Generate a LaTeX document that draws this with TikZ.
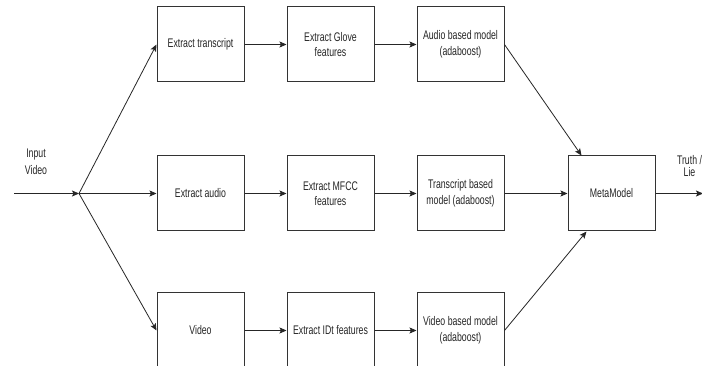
\documentclass[tikz,border=0pt]{standalone}
\usepackage{fontspec}
\setmainfont{Liberation Sans}[FakeStretch=0.70]
\usetikzlibrary{arrows.meta}
\tikzset{
  box/.style={draw=black!80, line width=1pt, minimum width=87pt, minimum height=75pt,
    align=center, inner sep=2pt, font=\fontsize{12.5}{15.5}\selectfont, text=black!85},
  arr/.style={-{Stealth[length=7pt,width=6pt,inset=1.5pt]}, line width=0.8pt, draw=black!85},
  lbl/.style={align=center, inner sep=0pt, text=black!85}
}
\begin{document}
\begin{tikzpicture}[x=1pt,y=-1pt]
\useasboundingbox (0,0) rectangle (702,366);
\fill[white] (0,0) rectangle (702,366);
% row 1
\node[box] (transcript) at (200.5,44.5) {Extract transcript};
\node[box] (glove) at (330.5,44.5) {Extract Glove\\features};
\node[box] (audiomodel) at (460.5,44.5) {Audio based model\\(adaboost)};
% row 2
\node[box] (audio) at (200.5,193.5) {Extract audio};
\node[box] (mfcc) at (330.5,193.5) {Extract MFCC\\features};
\node[box] (transmodel) at (460.5,193.5) {Transcript based\\model (adaboost)};
\node[box] (meta) at (611.5,193.5) {MetaModel};
% row 3
\node[box] (video) at (200.5,330.5) {Video};
\node[box] (idt) at (330.5,330.5) {Extract IDt features};
\node[box] (videomodel) at (460.5,330.5) {Video based model\\(adaboost)};
% labels
\node[lbl, font=\fontsize{12.5}{17}\selectfont] (inlbl) at (36,161.5) {Input\\Video};
\node[lbl, font=\fontsize{12.5}{12.5}\selectfont] (outlbl) at (689.5,166) {Truth /\\Lie};
% coordinates
\coordinate (start) at (14,193.5);
\coordinate (junc) at (79,193.5);
\coordinate (end) at (703,193.5);
% connectors
\draw[arr] (start) -- (junc);
\draw[arr] (junc) -- (transcript.west);
\draw[arr] (junc) -- (audio.west);
\draw[arr] (junc) -- (video.west);
\draw[arr] (transcript) -- (glove);
\draw[arr] (glove) -- (audiomodel);
\draw[arr] (audio) -- (mfcc);
\draw[arr] (mfcc) -- (transmodel);
\draw[arr] (video) -- (idt);
\draw[arr] (idt) -- (videomodel);
\draw[arr] (audiomodel.east) -- ([xshift=14pt]meta.north west);
\draw[arr] (transmodel) -- (meta);
\draw[arr] (videomodel.east) -- ([xshift=19pt]meta.south west);
\draw[arr] (meta.east) -- (end);
\end{tikzpicture}
\end{document}
